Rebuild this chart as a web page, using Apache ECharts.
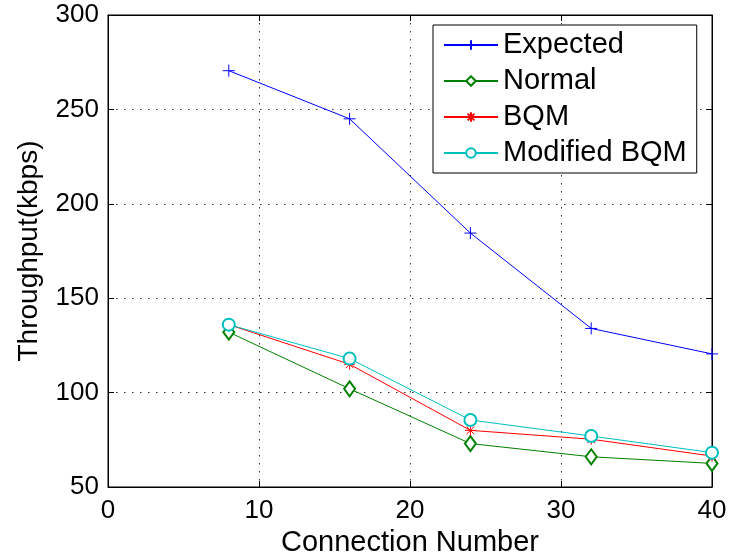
<!DOCTYPE html>
<html>
<head>
<meta charset="utf-8">
<script src="https://cdn.jsdelivr.net/npm/echarts@6/dist/echarts.min.js"></script>
<style>
  html, body { margin: 0; padding: 0; background: #fff; }
  #chart { width: 732px; height: 560px; }
</style>
</head>
<body>
<div id="chart"></div>
<script>
// connection numbers on the x axis
const connections = [8, 16, 24, 32, 40];

// throughput (kbps)
const expected = [270.5, 245, 184.5, 134, 120.5];
const normal = [132, 102, 73, 66, 62.5];
const bqm = [136, 115, 80, 75.3, 66.4];
const modifiedBqm = [136, 118, 85.5, 77, 68.2];

const seriesNames = ['Expected', 'Normal', 'BQM', 'Modified BQM'];

const plusPath = 'path://M5,0L5,10M0,5L10,5';
const starPath = 'path://M5,0L5,10M0,5L10,5M1.5,1.5L8.5,8.5M8.5,1.5L1.5,8.5';

const pairs = (ys) => connections.map((x, i) => [x, ys[i]]);

const chart = echarts.init(document.getElementById('chart'));

const font = 'Liberation Sans, Arial, sans-serif';

const mkSeries = (name, data, color, symbol, size) => ({
  name: name,
  type: 'line',
  data: pairs(data),
  symbol: symbol,
  symbolSize: size,
  showSymbol: true,
  lineStyle: { color: color, width: 1 },
  itemStyle: { color: color, borderColor: color, borderWidth: 1 },
  emphasis: { disabled: true },
  animation: false,
  z: 3
});

const gridDots = { color: '#333', type: [1.5, 6.5], width: 1 };

const option = {
  backgroundColor: '#fff',
  animation: false,
  grid: {
    left: 108, right: 20, top: 15, bottom: 73,
    outerBoundsMode: 'none',
    containLabel: false,
    show: true, borderColor: '#000', borderWidth: 1
  },
  legend: {
    data: seriesNames,
    orient: 'vertical',
    left: 433, top: 25,
    padding: [5, 10, 5, 10],
    itemGap: 6,
    itemWidth: 54,
    itemHeight: 12,
    backgroundColor: '#fff',
    borderColor: '#000',
    borderWidth: 1,
    textStyle: { fontFamily: font, fontSize: 29, lineHeight: 30, color: '#000' },
    selectedMode: false
  },
  xAxis: [{
    type: 'value',
    min: 0, max: 40, interval: 10,
    name: 'Connection Number',
    nameLocation: 'middle',
    nameGap: 41,
    nameTextStyle: { fontFamily: font, fontSize: 29, color: '#000' },
    axisLine: { show: true, onZero: false, lineStyle: { color: '#000', width: 1 } },
    axisTick: { show: true, inside: true, length: 6, lineStyle: { color: '#000' } },
    axisLabel: { fontFamily: font, fontSize: 26, color: '#000', margin: 11 },
    splitLine: { show: true, lineStyle: gridDots }
  }, {
    type: 'value', position: 'top',
    min: 0, max: 40, interval: 10,
    axisLine: { show: true, onZero: false, lineStyle: { color: '#000' } },
    axisTick: { show: true, inside: true, length: 6, lineStyle: { color: '#000' } },
    axisLabel: { show: false },
    splitLine: { show: false }
  }],
  yAxis: [{
    type: 'value',
    min: 50, max: 300, interval: 50,
    name: 'Throughput(kbps)',
    nameLocation: 'middle',
    nameGap: 65,
    nameTextStyle: { fontFamily: font, fontSize: 28, color: '#000' },
    axisLine: { show: true, onZero: false, lineStyle: { color: '#000', width: 1 } },
    axisTick: { show: true, inside: true, length: 6, lineStyle: { color: '#000' } },
    axisLabel: { fontFamily: font, fontSize: 26, color: '#000', margin: 9 },
    splitLine: { show: true, lineStyle: gridDots }
  }, {
    type: 'value', position: 'right',
    min: 50, max: 300, interval: 50,
    axisLine: { show: true, onZero: false, lineStyle: { color: '#000' } },
    axisTick: { show: true, inside: true, length: 6, lineStyle: { color: '#000' } },
    axisLabel: { show: false },
    splitLine: { show: false }
  }],
  series: [
    mkSeries('Expected', expected, '#0000ff', plusPath, 12),
    mkSeries('Normal', normal, '#008000', 'emptyDiamond', [11, 15]),
    mkSeries('BQM', bqm, '#ff0000', starPath, 11),
    mkSeries('Modified BQM', modifiedBqm, '#00bfbf', 'emptyCircle', 12)
  ]
};

chart.setOption(option);
</script>
</body>
</html>
